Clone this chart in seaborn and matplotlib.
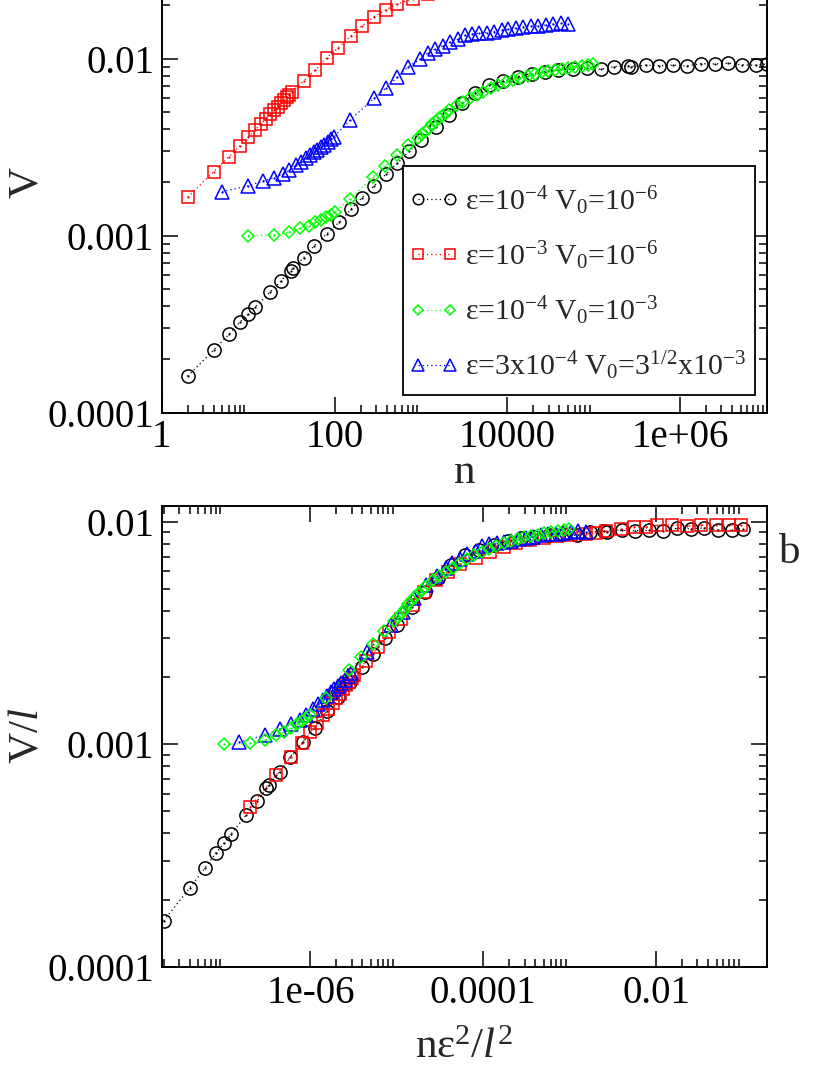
import numpy as np
import pandas as pd
import matplotlib
matplotlib.use("Agg")
import matplotlib.pyplot as plt
import seaborn as sns
from matplotlib.ticker import FixedLocator, FixedFormatter, NullFormatter
from matplotlib.lines import Line2D
from matplotlib.patches import Rectangle

# ---------------- data ----------------
series_labels = [
    "ε=10$^{-4}$ V$_0$=10$^{-6}$",
    "ε=10$^{-3}$ V$_0$=10$^{-6}$",
    "ε=10$^{-4}$ V$_0$=10$^{-3}$",
    "ε=3x10$^{-4}$ V$_0$=3$^{1/2}$x10$^{-3}$",
]
series_colors = ["#000000", "#ff0000", "#00ff00", "#0000ff"]
series_markers = ["o", "s", "D", "^"]
# parameters of each run: epsilon and the length scale l used for the collapse
eps_values = [1e-4, 1e-3, 1e-4, 3e-4]
ell_values = [1.0, 10 ** 0.5, 1.0, 3 ** 0.5]

n_black = [2, 4, 6, 8, 10, 12, 18, 24, 31, 33, 44, 58, 81, 113, 155, 208, 287, 392, 533,
           735, 995, 1496, 2133, 2965, 4227, 6194, 8995, 13400, 19140, 27290, 38900, 57150, 82990,
           120500, 173000, 251200, 267900, 399900, 574100, 833700, 1202000, 1730000, 2512000,
           3614000, 5248000, 7551000, 10000000]
V_black = [1.61e-4, 2.26e-4, 2.77e-4, 3.24e-4, 3.6e-4, 3.94e-4, 4.81e-4, 5.55e-4, 6.34e-4, 6.55e-4,
           7.52e-4, 8.75e-4, 1.02e-3, 1.19e-3, 1.41e-3, 1.64e-3, 1.91e-3, 2.22e-3, 2.56e-3,
           3.01e-3, 3.45e-3, 4.13e-3, 4.83e-3, 5.6e-3, 6.38e-3, 7.1e-3, 7.45e-3, 7.91e-3, 8.24e-3,
           8.45e-3, 8.6e-3, 8.73e-3, 8.83e-3,
           8.71e-3, 9.02e-3, 9.09e-3, 9.02e-3, 9.18e-3, 9.14e-3, 9.18e-3, 9.09e-3, 9.37e-3,
           9.33e-3, 9.42e-3, 9.21e-3, 9.18e-3, 9.33e-3]

n_red = [2, 4, 6, 8, 10, 12, 14, 16, 18, 20, 22, 24, 26, 28, 30, 32,
         44, 60, 81, 111, 154, 208, 287, 392, 533,
         813, 1211, 1726, 2399, 3516, 5012, 7145, 10470, 15240, 19950, 25940, 38730, 55200,
         75340, 102800, 153100, 228600, 326600, 486400, 693400, 948400]
V_red = [1.65e-3, 2.30e-3, 2.79e-3, 3.21e-3, 3.60e-3, 3.95e-3, 4.27e-3, 4.56e-3, 4.85e-3, 5.10e-3,
         5.35e-3, 5.59e-3, 5.85e-3, 6.05e-3, 6.27e-3, 6.49e-3,
         7.49e-3, 8.63e-3, 0.0101, 0.01154, 0.01343, 0.0153, 0.01727, 0.01884, 0.0204,
         0.0218, 0.0232, 0.0244, 0.0255, 0.0263, 0.0269, 0.0274, 0.0277, 0.0280, 0.0283, 0.0287,
         0.0293, 0.0300, 0.0300, 0.0306, 0.0308, 0.0304, 0.0306, 0.0308, 0.0306, 0.0306]

n_green = [10, 20, 30, 40, 50, 60, 70, 80, 90, 100, 151, 281, 387, 533,
           714, 933, 1038, 1135, 1242, 1355, 1483, 1622, 1770, 1936, 2113,
           2594, 3097, 3698, 4426, 5272, 6471, 7870, 9572, 11720, 14030, 17220, 20940, 25000,
           29850, 35650, 42660, 50820, 60810, 72610, 86700, 98850]
V_green = [1.0e-3, 1.01e-3, 1.045e-3, 1.10e-3, 1.14e-3, 1.19e-3, 1.23e-3, 1.27e-3, 1.31e-3, 1.355e-3,
           1.61e-3, 2.15e-3, 2.48e-3, 2.84e-3,
           3.25e-3, 3.58e-3, 3.74e-3, 3.91e-3, 4.08e-3, 4.26e-3, 4.45e-3, 4.6e-3, 4.76e-3, 4.93e-3, 5.1e-3,
           5.47e-3, 5.71e-3, 5.97e-3, 6.23e-3, 6.51e-3, 6.81e-3, 7.1e-3, 7.35e-3, 7.59e-3, 7.82e-3,
           8.02e-3, 8.2e-3, 8.38e-3, 8.53e-3, 8.63e-3, 8.74e-3, 8.89e-3, 9.01e-3, 9.1e-3, 9.2e-3, 9.3e-3]

n_blue = [5, 10, 15, 20, 25, 30, 36, 41, 47, 52, 58, 63, 69, 75, 83, 90, 99,
          151, 287, 391, 533,
          715, 977, 1219, 1456, 1786, 2172, 2711, 3238, 3870, 4742, 5777, 7015, 8610, 10280, 12620,
          15310, 18660, 22860, 28050, 34050, 41500, 50800]
V_blue = [1.77e-3, 1.91e-3, 2.04e-3, 2.13e-3, 2.22e-3, 2.35e-3, 2.50e-3, 2.62e-3, 2.75e-3, 2.85e-3,
          2.97e-3, 3.06e-3, 3.17e-3, 3.27e-3, 3.38e-3, 3.50e-3, 3.62e-3,
          4.5e-3, 5.97e-3, 6.81e-3, 7.85e-3,
          9.01e-3, 9.93e-3, 0.01081, 0.0113, 0.01184, 0.01239, 0.01288, 0.01356, 0.01379, 0.0139,
          0.01402, 0.01422, 0.01454, 0.01466, 0.0149, 0.01517, 0.0153, 0.0153, 0.01549, 0.0157,
          0.01584, 0.0157]

n_series = [n_black, n_red, n_green, n_blue]
V_series = [V_black, V_red, V_green, V_blue]

# tick values and labels
top_x_major = [1, 100, 1e4, 1e6]
top_x_labels = ["1", "100", "10000", "1e+06"]
bot_x_major = [1e-6, 1e-4, 1e-2]
bot_x_labels = ["1e-06", "0.0001", "0.01"]
y_major = [1e-4, 1e-3, 1e-2]
y_labels = ["0.0001", "0.001", "0.01"]

# ---------------- style ----------------
sns.set_style("ticks")
plt.rcParams.update({
    "font.family": ["Liberation Serif", "DejaVu Serif"],
    "mathtext.fontset": "custom",
    "mathtext.rm": "Liberation Serif",
    "mathtext.it": "Liberation Serif:italic",
    "mathtext.bf": "Liberation Serif:bold",
    "mathtext.default": "regular",
    "axes.linewidth": 1.4,
    "axes.edgecolor": "black",
    "xtick.direction": "in",
    "ytick.direction": "in",
    "xtick.top": True,
    "ytick.right": True,
    "xtick.color": "black",
    "ytick.color": "black",
})

fig = plt.figure(figsize=(8.3, 10.75), dpi=100)
ax1 = fig.add_axes([0.1948, 0.6161, 0.7289, 0.4285])
ax2 = fig.add_axes([0.1948, 0.1007, 0.7289, 0.4289])

marker_sizes = {"o": 9.5, "s": 8.6, "D": 6.6, "^": 10.0}
line_dash = (0, (1.0, 2.4))


def minor_positions(exps):
    return [k * 10.0 ** e for e in exps for k in range(2, 10)]


def style_axes(ax, xmaj, xlab, xminor, xlim, ylim, xpad):
    ax.set_xscale("log")
    ax.set_yscale("log")
    ax.set_xlim(*xlim)
    ax.set_ylim(*ylim)
    ax.xaxis.set_major_locator(FixedLocator(xmaj))
    ax.xaxis.set_major_formatter(FixedFormatter(xlab))
    ax.xaxis.set_minor_locator(FixedLocator(xminor))
    ax.xaxis.set_minor_formatter(NullFormatter())
    ax.yaxis.set_major_locator(FixedLocator(y_major))
    ax.yaxis.set_major_formatter(FixedFormatter(y_labels))
    ax.yaxis.set_minor_locator(FixedLocator(minor_positions([-5, -4, -3, -2, -1])))
    ax.yaxis.set_minor_formatter(NullFormatter())
    ax.tick_params(which="major", length=11.5, width=1.1, labelsize=28)
    ax.tick_params(which="minor", length=5.8, width=1.1)
    ax.tick_params(axis="x", which="major", pad=xpad)
    ax.tick_params(axis="y", which="major", pad=5.5)
    for s in ax.spines.values():
        s.set_visible(True)
        s.set_linewidth(1.4)


style_axes(ax1, top_x_major, top_x_labels, minor_positions([0, 2, 4, 6]),
           (1, 1e7), (1e-4, 0.04), 4.5)
style_axes(ax2, bot_x_major, bot_x_labels, minor_positions([-8, -6, -4, -2]),
           (1.9e-8, 0.19), (1e-4, 0.01185), 6.0)

draw_order = [0, 1, 3, 2]
for ax, collapsed in ((ax1, False), (ax2, True)):
    for i in draw_order:
        n = np.asarray(n_series[i], dtype=float)
        V = np.asarray(V_series[i], dtype=float)
        if collapsed:
            xs = n * eps_values[i] ** 2 / ell_values[i] ** 2
            ys = V / ell_values[i]
        else:
            xs, ys = n, V
        df = pd.DataFrame({"x": xs, "y": ys})
        c = series_colors[i]
        m = series_markers[i]
        sns.lineplot(data=df, x="x", y="y", ax=ax, estimator=None, sort=False,
                     color=c, linewidth=0.9, linestyle=line_dash,
                     marker=m, markersize=marker_sizes[m], markerfacecolor="none",
                     markeredgecolor=c, markeredgewidth=1.1, legend=False)
        sns.scatterplot(data=df, x="x", y="y", ax=ax, color=c, s=2.5,
                        linewidth=0, legend=False)

for ax in (ax1, ax2):
    ax.set_xlabel("")
    ax.set_ylabel("")

# axis labels
ax1.set_xlabel(r"$\mathregular{n}$", fontsize=31, va="baseline")
ax1.xaxis.set_label_coords(0.5, -0.153)
ax1.set_ylabel("V", fontsize=31, va="baseline")
ax1.yaxis.set_label_coords(-0.206, 0.5)

ax2.set_xlabel(r"nε$^{2}$/$\mathit{l}^{2}$", fontsize=31, va="baseline")
ax2.xaxis.set_label_coords(0.5, -0.198)
ax2.set_ylabel(r"V/$\mathit{l}$", fontsize=31, va="baseline")
ax2.yaxis.set_label_coords(-0.206, 0.5)

fig.text(790 / 830, 1 - 563 / 1075, "b", fontsize=31, ha="center", va="baseline")

# legend: white framed box drawn behind an unframed legend
frame = Rectangle((0.3988, 0.0384), 0.5818, 0.4972, transform=ax1.transAxes,
                  facecolor="white", edgecolor="black", linewidth=1.3, zorder=4.5)
ax1.add_patch(frame)

handles = []
for i in range(4):
    c = series_colors[i]
    m = series_markers[i]
    handles.append(Line2D([], [], color=c, linewidth=0.9, linestyle=line_dash, marker=m,
                          markersize=marker_sizes[m], markerfacecolor="none",
                          markeredgecolor=c, markeredgewidth=1.1))

leg = ax1.legend(handles, series_labels, loc="upper left",
                 bbox_to_anchor=(0.4088, 0.4965), borderaxespad=0, borderpad=0,
                 fontsize=21.5, numpoints=2, handlelength=1.67, handletextpad=0.2,
                 labelspacing=0.75, markerscale=0.8, frameon=False)
leg.set_zorder(5)

fig.savefig("out.png", dpi=100)
